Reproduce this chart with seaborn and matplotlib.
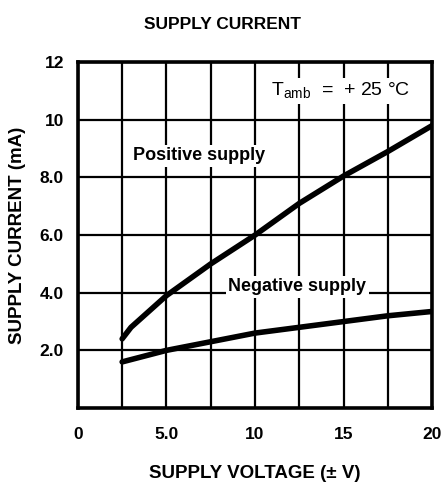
import pandas as pd
import matplotlib.pyplot as plt
import seaborn as sns

volts_pos = [2.5, 3.0, 5.0, 7.5, 10.0, 12.5, 15.0, 17.5, 20.0]
cur_pos   = [2.4, 2.8, 3.9, 5.0, 6.0, 7.1, 8.05, 8.9, 9.8]
volts_neg = [2.5, 5.0, 7.5, 10.0, 12.5, 15.0, 17.5, 20.0]
cur_neg   = [1.6, 2.0, 2.3, 2.6, 2.8, 3.0, 3.2, 3.35]

x_ticks = [0, 5, 10, 15, 20]
x_labels = ['0', '5.0', '10', '15', '20']
y_ticks = [2, 4, 6, 8, 10, 12]
y_labels = ['2.0', '4.0', '6.0', '8.0', '10', '12']

df = pd.concat([
    pd.DataFrame({'V': volts_pos, 'I': cur_pos, 'supply': 'Positive supply'}),
    pd.DataFrame({'V': volts_neg, 'I': cur_neg, 'supply': 'Negative supply'}),
])

sns.set_style('white')
plt.rcParams['font.family'] = ['Liberation Sans', 'DejaVu Sans']
plt.rcParams['text.color'] = 'black'
plt.rcParams['axes.labelcolor'] = 'black'
plt.rcParams['xtick.color'] = 'black'
plt.rcParams['ytick.color'] = 'black'

fig = plt.figure(figsize=(4.45, 4.82), dpi=100)
ax = fig.add_axes([0.175, 0.1535, 0.796, 0.7175])

sns.lineplot(data=df, x='V', y='I', hue='supply', palette=['black', 'black'],
             lw=4, legend=False, ax=ax, sort=False)

ax.set_xlim(0, 20); ax.set_ylim(0, 12)
ax.set_xticks([i * 2.5 for i in range(9)], minor=True)
ax.set_xticks(x_ticks)
ax.set_xticklabels(x_labels, fontsize=12.5, fontweight='heavy')
ax.set_yticks(y_ticks)
ax.set_yticklabels(y_labels, fontsize=12.5, fontweight='heavy')
ax.tick_params(length=0, pad=14)
ax.tick_params(axis='y', pad=10)
ax.grid(True, which='both', axis='x', color='black', lw=1.6)
ax.grid(True, axis='y', color='black', lw=1.6)
for s in ax.spines.values():
    s.set_color('black'); s.set_linewidth(2.6)

ax.set_xlabel('SUPPLY VOLTAGE (± V)', fontsize=13.5, fontweight='bold', labelpad=16)
ax.set_ylabel('SUPPLY CURRENT (mA)', fontsize=13.5, fontweight='bold', labelpad=10)
fig.suptitle('SUPPLY CURRENT', fontsize=12.5, fontweight='bold', y=0.965)

ax.text(10.9, 11.0, r'T$_{\mathregular{amb}}$  =  + 25 °C', fontsize=14,
        va='center', bbox=dict(facecolor='white', edgecolor='none', pad=2))
ax.text(3.1, 8.75, 'Positive supply', fontsize=13, fontweight='bold',
        va='center', bbox=dict(facecolor='white', edgecolor='none', pad=2))
ax.text(8.5, 4.2, 'Negative supply', fontsize=13, fontweight='bold',
        va='center', bbox=dict(facecolor='white', edgecolor='none', pad=2))

plt.savefig('out.png', dpi=100)
